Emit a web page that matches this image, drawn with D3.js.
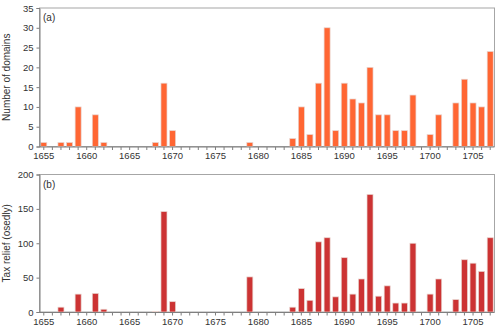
<!DOCTYPE html>
<html>
<head>
<script src="https://d3js.org/d3.v7.min.js"></script>
<style>
  body { margin: 0; background: #fff; }
  text { font-family: "Liberation Sans", Arial, sans-serif; fill: #333; }
</style>
</head>
<body>
<div id="chart"></div>
<script>
// years 1655..1707
var years = d3.range(1655, 1708);

// (a) number of domains per year
var domains = [1, 0, 1, 1, 10, 0, 8, 1, 0, 0, 0, 0, 0, 1, 16, 4,
  0, 0, 0, 0, 0, 0, 0, 0, 1, 0, 0, 0, 0, 2, 10, 3, 16, 30, 4, 16, 12, 11, 20,
  8, 8, 4, 4, 13, 0, 3, 8, 0, 11, 17, 11, 10, 24];

// (b) tax relief (osedly) per year
var relief = [0, 0, 7, 0, 26, 0, 27, 4, 0, 0, 0, 0, 0, 1, 146, 15,
  0, 0, 0, 0, 0, 0, 0, 0, 51, 0, 0, 0, 0, 7, 34, 17, 102, 108, 22, 79, 26, 48, 171,
  23, 38, 13, 13, 100, 0, 26, 48, 0, 18, 76, 71, 59, 108];

var ticksA = [0, 5, 10, 15, 20, 25, 30, 35];
var ticksB = [0, 50, 100, 150, 200];

var W = 500, H = 332;
var svg = d3.select("#chart").append("svg")
    .attr("width", W)
    .attr("height", H);

var x = d3.scaleBand()
    .domain(years)
    .range([39.5, 494.5])
    .paddingInner(0.3)
    .paddingOuter(0.15);

function panel(values, yTicks, top, bottom, color, label, title) {
  var y = d3.scaleLinear()
      .domain([0, yTicks[yTicks.length - 1]])
      .range([bottom, top]);

  var g = svg.append("g");

  // frame
  g.append("rect")
    .attr("x", 39.5).attr("y", top)
    .attr("width", 455).attr("height", bottom - top)
    .attr("fill", "none")
    .attr("stroke", "#a6a6a6");

  g.selectAll("rect.bar").data(values).enter()
    .append("rect")
    .attr("class", "bar")
    .attr("x", function(d, i) { return x(years[i]); })
    .attr("y", function(d) { return y(d); })
    .attr("width", x.bandwidth())
    .attr("height", function(d) { return bottom - y(d); })
    .attr("fill", color)
    .attr("stroke", "#e9d4cf")
    .attr("stroke-width", 0.7)
    .style("display", function(d) { return d > 0 ? null : "none"; });

  var xAxis = g.append("g")
    .attr("transform", "translate(0," + bottom + ")")
    .call(d3.axisBottom(x)
      .tickSize(3)
      .tickPadding(3)
      .tickFormat(function(d) { return d % 5 === 0 ? d : ""; }));
  xAxis.select(".domain").attr("stroke", "#7f7f7f").attr("d", "M39.5,0.5H494.5");
  xAxis.selectAll("line").attr("stroke", "#7f7f7f").attr("y1", 0.5).attr("y2", 3.5);
  xAxis.selectAll("text").attr("font-size", 9.5).attr("fill", "#333")
    .attr("font-family", "Liberation Sans, Arial, sans-serif");

  var yAxis = g.append("g")
    .attr("transform", "translate(39.5,0)")
    .call(d3.axisLeft(y).tickValues(yTicks).tickSize(3).tickPadding(3));
  yAxis.select(".domain").attr("stroke", "#7f7f7f");
  yAxis.selectAll("line").attr("stroke", "#7f7f7f");
  yAxis.selectAll("text").attr("font-size", 9.5).attr("fill", "#333")
    .attr("font-family", "Liberation Sans, Arial, sans-serif");

  g.append("text")
    .attr("x", 43).attr("y", top + 13)
    .attr("font-size", 10)
    .text(label);

  g.append("text")
    .attr("transform", "translate(10," + ((top + bottom) / 2) + ") rotate(-90)")
    .attr("text-anchor", "middle")
    .attr("font-size", 10)
    .text(title);
}

panel(domains, ticksA, 8, 146.5, "#ff6633", "(a)", "Number of domains");
panel(relief, ticksB, 174.5, 312, "#cc3333", "(b)", "Tax relief (osedly)");
</script>
</body>
</html>
